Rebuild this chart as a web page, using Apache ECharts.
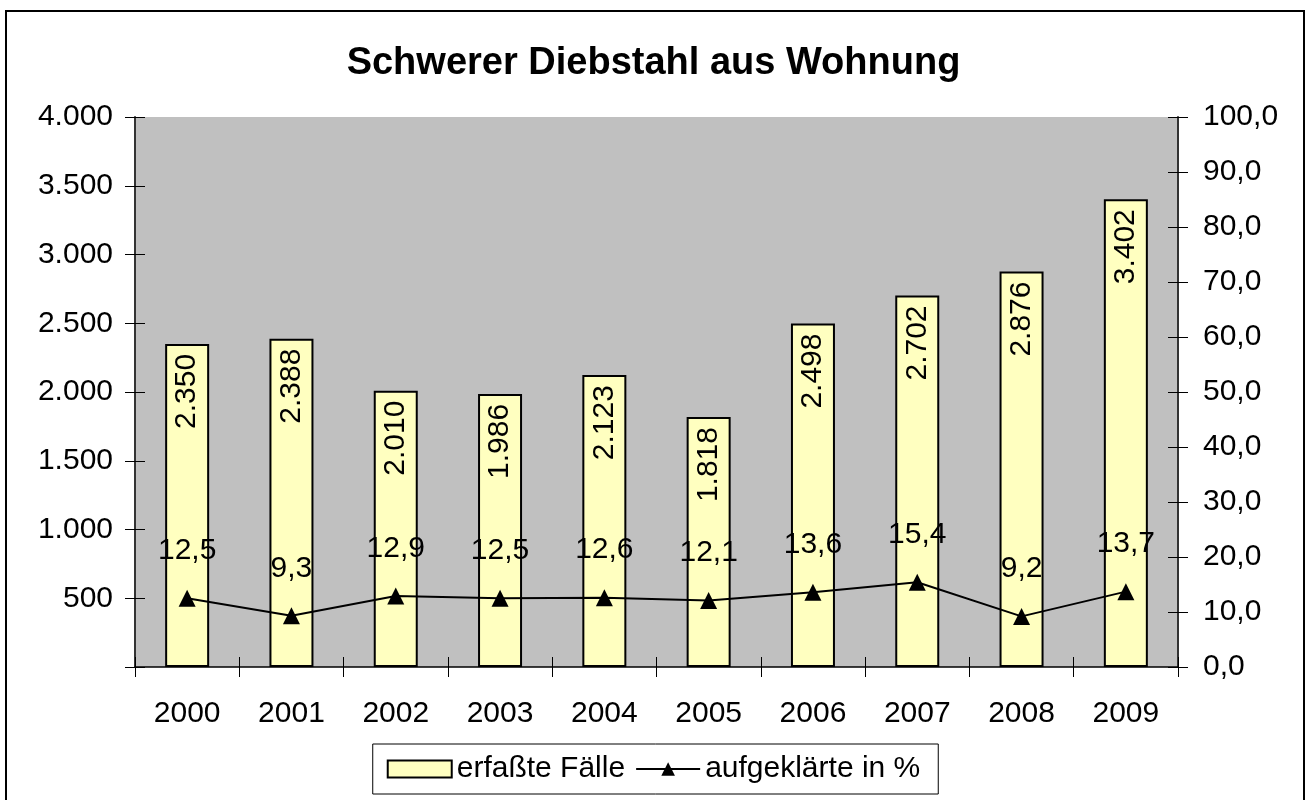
<!DOCTYPE html>
<html>
<head>
<meta charset="utf-8">
<script src="https://cdn.jsdelivr.net/npm/echarts@6/dist/echarts.min.js"></script>
<style>
  html, body { margin: 0; padding: 0; background: #fff; }
  #chart { width: 1307px; height: 800px; }
</style>
</head>
<body>
<div id="chart"></div>
<script>
const years = ["2000", "2001", "2002", "2003", "2004", "2005", "2006", "2007", "2008", "2009"];
const cases = [2350, 2388, 2010, 1986, 2123, 1818, 2498, 2702, 2876, 3402];
const clearedPct = [12.5, 9.3, 12.9, 12.5, 12.6, 12.1, 13.6, 15.4, 9.2, 13.7];

const FONT = "Liberation Sans, Arial, sans-serif";

// German number formats
const thousands = (v) => String(Math.round(v)).replace(/\B(?=(\d{3})+(?!\d))/g, ".");
const oneDecimal = (v) => v.toFixed(1).replace(".", ",");

const chart = echarts.init(document.getElementById("chart"));

const grid = { left: 135, top: 117, right: 129, bottom: 133 };

const option = {
  backgroundColor: "#fff",
  animation: false,
  title: {
    text: "Schwerer Diebstahl aus Wohnung",
    left: "center",
    top: 40,
    textStyle: { fontFamily: FONT, fontSize: 38, fontWeight: "bold", color: "#000" },
  },
  graphic: [
    {
      type: "rect",
      shape: { x: 6, y: 11, width: 1298, height: 800 },
      style: { fill: null, stroke: "#000", lineWidth: 2 },
      silent: true,
    },
  ],
  legend: {
    data: [
      { name: "erfaßte Fälle", icon: "rect" },
      { name: "aufgeklärte in %" },
    ],
    left: "center",
    top: 744,
    padding: [10, 18, 10, 14],
    borderColor: "#000",
    borderWidth: 1,
    itemWidth: 64,
    itemHeight: 17,
    itemGap: 10,
    textStyle: { fontFamily: FONT, fontSize: 30, color: "#000" },
  },
  grid: Object.assign({ backgroundColor: "#C0C0C0", show: true, borderWidth: 0 }, grid),
  xAxis: [
    {
      type: "category",
      data: years,
      axisLine: { lineStyle: { color: "#000", width: 1.5 } },
      axisTick: { show: true, length: 10, lineStyle: { color: "#000" } },
      axisLabel: { fontFamily: FONT, fontSize: 30, color: "#000", margin: 32 },
    },
    {
      type: "category",
      data: years,
      position: "bottom",
      axisLine: { show: false },
      axisTick: { show: true, inside: true, length: 10, lineStyle: { color: "#000" } },
      axisLabel: { show: false },
    },
  ],
  yAxis: [
    {
      type: "value",
      min: 0,
      max: 4000,
      interval: 500,
      position: "left",
      splitLine: { show: false },
      axisLine: { show: true, lineStyle: { color: "#333", width: 2 } },
      axisTick: { show: true, length: 10, lineStyle: { color: "#000" } },
      axisLabel: {
        fontFamily: FONT, fontSize: 30, color: "#000", margin: 22,
        formatter: (v) => (v === 0 ? "" : thousands(v)),
      },
    },
    {
      type: "value",
      min: 0,
      max: 100,
      interval: 10,
      position: "right",
      splitLine: { show: false },
      axisLine: { show: true, lineStyle: { color: "#333", width: 2 } },
      axisTick: { show: true, length: 10, lineStyle: { color: "#000" } },
      axisLabel: {
        fontFamily: FONT, fontSize: 30, color: "#000", margin: 25,
        formatter: (v) => oneDecimal(v),
      },
    },
    {
      type: "value",
      min: 0,
      max: 4000,
      interval: 500,
      position: "left",
      splitLine: { show: false },
      axisLine: { show: false },
      axisTick: { show: true, inside: true, length: 10, lineStyle: { color: "#000" } },
      axisLabel: { show: false },
    },
    {
      type: "value",
      min: 0,
      max: 100,
      interval: 10,
      position: "right",
      splitLine: { show: false },
      axisLine: { show: false },
      axisTick: { show: true, inside: true, length: 10, lineStyle: { color: "#000" } },
      axisLabel: { show: false },
    },
  ],
  series: [
    {
      name: "erfaßte Fälle",
      type: "bar",
      data: cases,
      barWidth: 44,
      itemStyle: { color: "#FFFFC0", borderColor: "#000", borderWidth: 2 },
      label: {
        show: true,
        position: "insideTop",
        rotate: 90,
        align: "right",
        verticalAlign: "middle",
        distance: 10,
        fontFamily: FONT,
        fontSize: 30,
        color: "#000",
        formatter: (p) => thousands(p.value),
      },
    },
    {
      name: "aufgeklärte in %",
      type: "line",
      yAxisIndex: 1,
      data: clearedPct,
      symbol: "triangle",
      symbolSize: 17,
      itemStyle: { color: "#000" },
      lineStyle: { color: "#000", width: 2 },
      label: {
        show: true,
        position: "top",
        distance: 24,
        fontFamily: FONT,
        fontSize: 30,
        color: "#000",
        formatter: (p) => oneDecimal(p.value),
      },
    },
  ],
};

chart.setOption(option);
window.addEventListener("resize", () => chart.resize());
</script>
</body>
</html>
